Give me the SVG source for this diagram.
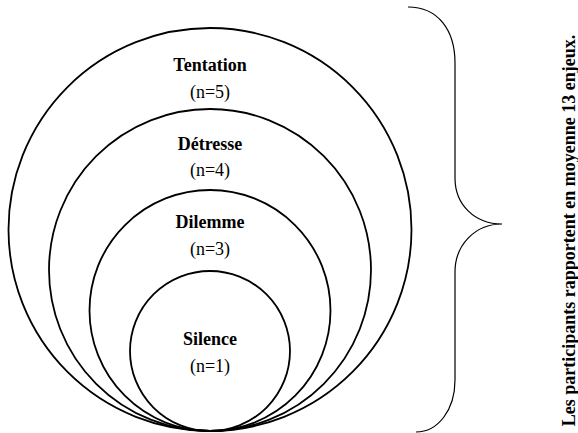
<svg xmlns="http://www.w3.org/2000/svg" width="578" height="433" viewBox="0 0 578 433">
<style>
.c{fill:none;stroke:#000;stroke-width:1.8}
.b{fill:none;stroke:#000;stroke-width:1.2}
.t{font-family:"Liberation Serif","Times New Roman",serif;font-size:18px;font-weight:bold;text-anchor:middle;fill:#000}
.n{font-family:"Liberation Serif","Times New Roman",serif;font-size:18px;text-anchor:middle;fill:#000}
</style>
<rect width="578" height="433" fill="#fff"/>
<g id="tentation">
<circle class="c" cx="210" cy="229.5" r="201.5"/>
<text class="t" x="210" y="71">Tentation</text>
<text class="n" x="210" y="98">(n=5)</text>
</g>
<g id="detresse">
<circle class="c" cx="210" cy="270" r="161"/>
<text class="t" x="210" y="150">Détresse</text>
<text class="n" x="210" y="176">(n=4)</text>
</g>
<g id="dilemme">
<circle class="c" cx="210" cy="310.5" r="120.5"/>
<text class="t" x="210" y="228">Dilemme</text>
<text class="n" x="210" y="255">(n=3)</text>
</g>
<g id="silence">
<circle class="c" cx="210" cy="351" r="80"/>
<text class="t" x="210" y="345">Silence</text>
<text class="n" x="210" y="372">(n=1)</text>
</g>
<g id="connectors">
<path class="b" d="M408,7 C438,7 455,30 455,63 L455,178 C455,205 475,224 502,224 C475,224 455,245 455,272 L455,380 C455,410 438,432 416,432"/>
</g>
<g id="note">
<text class="t" transform="translate(575,230.5) rotate(-90)" x="0" y="0">Les participants rapportent en moyenne 13 enjeux.</text>
</g>
</svg>
